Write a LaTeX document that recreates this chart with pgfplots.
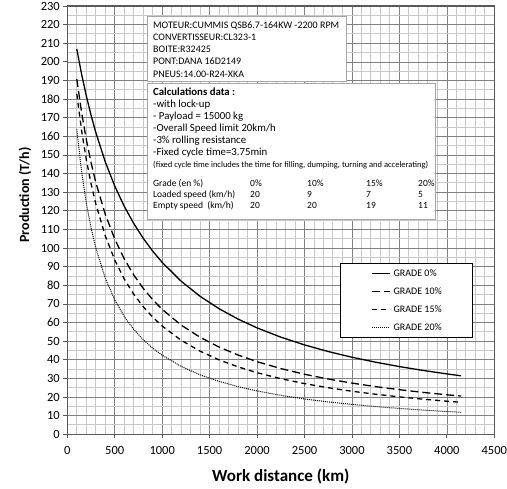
\documentclass[border=0pt]{standalone}
\usepackage{fontspec}
\setmainfont{Carlito}
\usepackage{pgfplots}
\pgfplotsset{compat=1.18}
\definecolor{axgray}{HTML}{595959}
\definecolor{majgrid}{HTML}{808080}
\definecolor{mingrid}{HTML}{C8C8C8}
\definecolor{boxgray}{HTML}{A6A6A6}
\begin{document}
\begin{tikzpicture}
\begin{axis}[
  scale only axis, width=427pt, height=428.3pt,
  xmin=0, xmax=4500, ymin=0, ymax=230,
  xtick={0,500,...,4500}, ytick={0,10,...,230},
  minor x tick num=4, minor y tick num=1,
  grid=both,
  major grid style={majgrid, line width=0.7pt},
  minor grid style={mingrid, line width=1pt},
  axis line style={axgray, line width=1.2pt},
  tick style={axgray, line width=0.8pt},
  tick align=outside, major tick length=4pt, minor tick length=0pt,
  tick pos=left,
  /pgf/number format/assume math mode=true,
  /pgf/number format/1000 sep={},
  tick label style={font=\fontsize{12.5}{14}\selectfont},
  xticklabel style={yshift=-5pt},
  xlabel={Work distance (km)}, ylabel={Production (T/h)},
  xlabel style={font=\bfseries\fontsize{17}{20}\selectfont, at={(rel axis cs:0.5,-0.099)}, anchor=center},
  ylabel style={font=\bfseries\fontsize{14}{16}\selectfont, at={(rel axis cs:-0.099,0.5587)}, anchor=center},
  legend style={at={(rel axis cs:0.6386,0.40)}, anchor=north west, draw=black, line width=0.8pt, fill=white,
    font=\fontsize{10}{12}\selectfont, inner xsep=31pt, inner ysep=1pt, row sep=0pt, column sep=3pt,
    nodes={inner sep=0pt, minimum height=18pt}},
  legend cell align=left,
  legend image code/.code={\draw[#1] (0pt,0pt) -- (18pt,0pt);},
]
\addplot[black, line width=1.3pt] coordinates {
(100,206.90) (150,193.55) (200,181.82) (250,171.43) (300,162.16) (400,146.34) (500,133.33) (600,122.45) (700,113.21) (800,105.26) (900,98.36) (1000,92.31) (1200,82.19) (1400,74.07) (1600,67.42) (1800,61.86) (2000,57.14) (2250,52.17) (2500,48.00) (2750,44.44) (3000,41.38) (3250,38.71) (3500,36.36) (3750,34.29) (4000,32.43) (4150,31.41)};
\addlegendentry{GRADE 0\%}
\addplot[black, line width=1.3pt, dash pattern=on 8pt off 4pt] coordinates {
(100,190.81) (150,173.08) (200,158.36) (250,145.95) (300,135.34) (400,118.16) (500,104.85) (600,94.24) (700,85.58) (800,78.37) (900,72.29) (1000,67.08) (1200,58.63) (1400,52.07) (1600,46.83) (1800,42.55) (2000,38.99) (2250,35.29) (2500,32.24) (2750,29.67) (3000,27.48) (3250,25.59) (3500,23.95) (3750,22.50) (4000,21.22) (4150,20.52)};
\addlegendentry{GRADE 10\%}
\addplot[black, line width=1.3pt, dash pattern=on 5pt off 4pt] coordinates {
(100,182.82) (150,163.36) (200,147.64) (250,134.68) (300,123.82) (400,106.61) (500,93.61) (600,83.43) (700,75.25) (800,68.53) (900,62.91) (1000,58.14) (1200,50.49) (1400,44.62) (1600,39.97) (1800,36.20) (2000,33.08) (2250,29.86) (2500,27.21) (2750,25.00) (3000,23.11) (3250,21.50) (3500,20.09) (3750,18.85) (4000,17.76) (4150,17.17)};
\addlegendentry{GRADE 15\%}
\addplot[black, line width=1pt, dash pattern=on 1pt off 1pt] coordinates {
(100,163.77) (150,141.33) (200,124.29) (250,110.92) (300,100.15) (400,83.86) (500,72.13) (600,63.28) (700,56.36) (800,50.81) (900,46.25) (1000,42.44) (1200,36.44) (1400,31.93) (1600,28.41) (1800,25.59) (2000,23.28) (2250,20.92) (2500,18.99) (2750,17.39) (3000,16.04) (3250,14.88) (3500,13.88) (3750,13.01) (4000,12.23) (4150,11.81)};
\addlegendentry{GRADE 20\%}
\end{axis}
% annotation boxes (pt relative to axis south west)
\draw[boxgray, line width=0.6pt, fill=white] (79.7pt,418.3pt) rectangle (278.7pt,353.3pt);
\begin{scope}[every node/.style={anchor=base west, inner sep=0pt, font=\fontsize{10}{12}\selectfont}]
\node at (85.7pt,405.6pt) {MOTEUR:CUMMIS QSB6.7-164KW -2200 RPM};
\node at (85.7pt,393.5pt) {CONVERTISSEUR:CL323-1};
\node at (85.7pt,381.4pt) {BOITE:R32425};
\node at (85.7pt,369.3pt) {PONT:DANA 16D2149};
\node at (85.7pt,357.2pt) {PNEUS:14.00-R24-XKA};
\end{scope}
\draw[boxgray, line width=0.6pt, fill=white] (79.7pt,351.3pt) rectangle (367.7pt,215.3pt);
\begin{scope}[every node/.style={anchor=base west, inner sep=0pt, font=\fontsize{10.8}{12}\selectfont}]
\node[font=\bfseries\fontsize{10.8}{12}\selectfont] at (85.7pt,338.3pt) {Calculations data :};
\node at (85.7pt,326.3pt) {-with lock-up};
\node at (85.7pt,314.3pt) {- Payload = 15000 kg};
\node at (85.7pt,302.3pt) {-Overall Speed limit 20km/h};
\node at (85.7pt,290.3pt) {-3\% rolling resistance};
\node at (85.7pt,278.3pt) {-Fixed cycle time=3.75min};
\node[font=\fontsize{8.5}{10}\selectfont] at (85.7pt,266.8pt) {(fixed cycle time includes the time for filling, dumping, turning and accelerating)};
\end{scope}
\begin{scope}[every node/.style={anchor=base west, inner sep=0pt, font=\fontsize{9.5}{11}\selectfont}]
\node at (85.7pt,247.3pt) {Grade (en \%)};
\node at (182.7pt,247.3pt) {0\%};
\node at (239.7pt,247.3pt) {10\%};
\node at (298.7pt,247.3pt) {15\%};
\node at (350.7pt,247.3pt) {20\%};
\node at (85.7pt,236.3pt) {Loaded speed (km/h)};
\node at (182.7pt,236.3pt) {20};
\node at (239.7pt,236.3pt) {9};
\node at (298.7pt,236.3pt) {7};
\node at (350.7pt,236.3pt) {5};
\node at (85.7pt,225.3pt) {Empty speed\ \ (km/h)};
\node at (182.7pt,225.3pt) {20};
\node at (239.7pt,225.3pt) {20};
\node at (298.7pt,225.3pt) {19};
\node at (350.7pt,225.3pt) {11};
\end{scope}
\pgfresetboundingbox
\path (-67.3pt,-54.7pt) rectangle (439.7pt,434.3pt);
\end{tikzpicture}
\end{document}
